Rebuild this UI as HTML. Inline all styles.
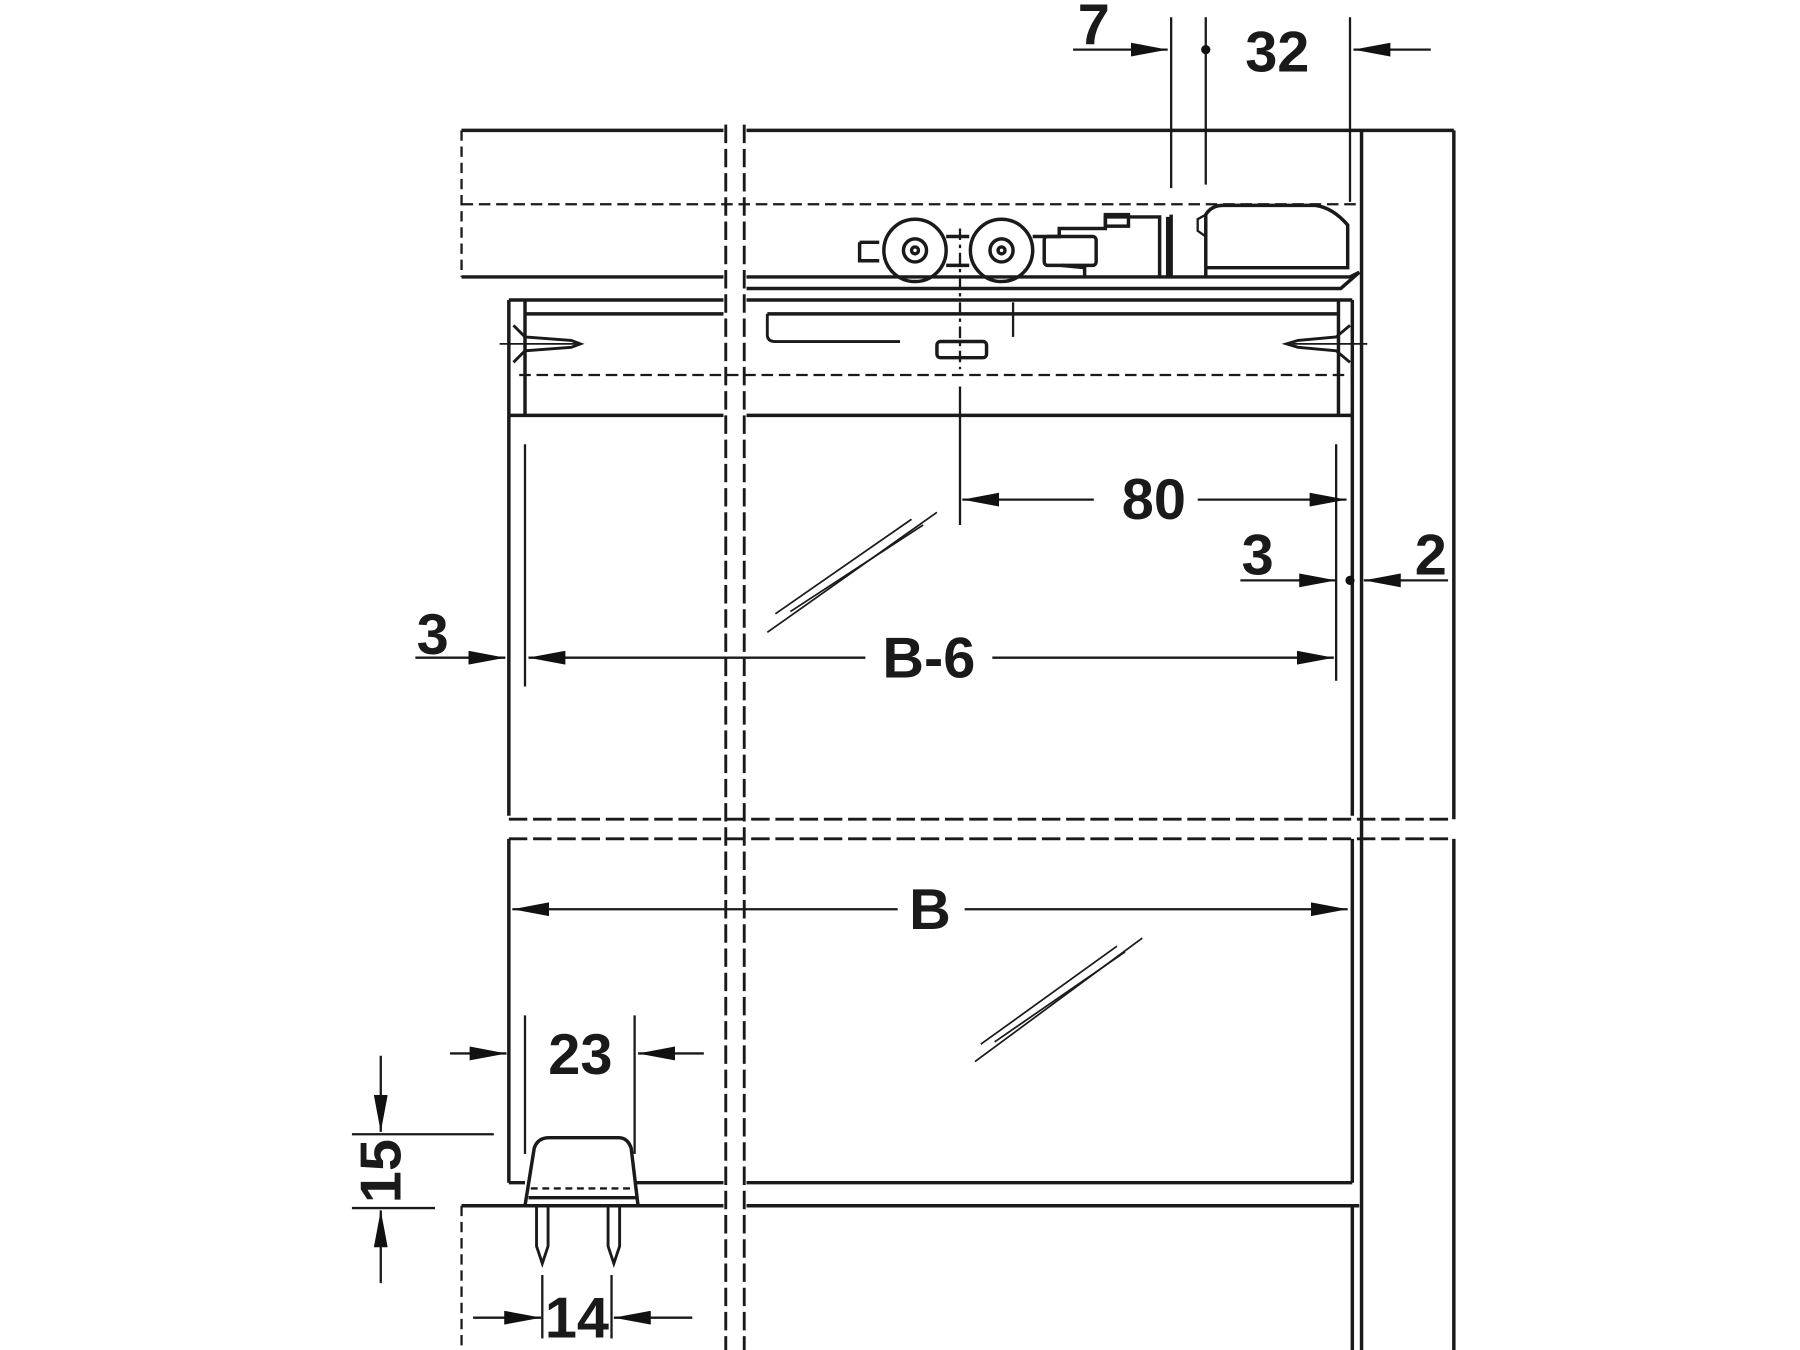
<!DOCTYPE html>
<html><head><meta charset="utf-8"><style>
html,body{margin:0;padding:0;background:#fff;}
svg{display:block;}
text{font-family:"Liberation Sans Narrow","Liberation Sans",sans-serif;font-weight:bold;fill:#1a1a1a;}
</style></head><body>
<svg width="1800" height="1350" viewBox="0 0 1560 1170" xmlns="http://www.w3.org/2000/svg">
<defs>
<marker id="a" viewBox="0 0 32 12" refX="32" refY="6" markerWidth="32" markerHeight="12" markerUnits="userSpaceOnUse" orient="auto"><path d="M0,0 L32,6 L0,12 Z" fill="#111"/></marker>
</defs>
<g stroke="#1a1a1a" fill="none" stroke-width="3">
<line x1="400" y1="113" x2="627" y2="113"/>
<line x1="647" y1="113" x2="1260" y2="113"/>
<line x1="400" y1="240" x2="627" y2="240"/>
<line x1="400" y1="113" x2="400" y2="240" stroke-dasharray="9 5" stroke-width="2"/>
<line x1="400" y1="177" x2="1178" y2="177" stroke-dasharray="10 5" stroke-width="2"/>
<line x1="1180" y1="113" x2="1180" y2="1175"/>
<line x1="1260" y1="113" x2="1260" y2="710"/>
<line x1="1260" y1="727" x2="1260" y2="1175"/>
<line x1="629" y1="108" x2="629" y2="1175" stroke-dasharray="16 5" stroke-width="2.5"/>
<line x1="645" y1="108" x2="645" y2="1175" stroke-dasharray="16 5" stroke-width="2.5"/>
<line x1="441" y1="710" x2="1260" y2="710" stroke-dasharray="16 5" stroke-width="2.5"/>
<line x1="441" y1="727" x2="1260" y2="727" stroke-dasharray="16 5" stroke-width="2.5"/>
<path d="M647,240 L1170,240 L1178,236 L1162,250 L647,250"/>
<line x1="441" y1="260" x2="627" y2="260"/>
<line x1="647" y1="260" x2="1172" y2="260"/>
<line x1="455" y1="272" x2="627" y2="272"/>
<line x1="665" y1="272" x2="1160" y2="272"/>
<line x1="450" y1="325" x2="1170" y2="325" stroke-dasharray="10 5" stroke-width="2"/>
<line x1="441" y1="360" x2="627" y2="360"/>
<line x1="647" y1="360" x2="1172" y2="360"/>
<line x1="441" y1="260" x2="441" y2="707"/>
<line x1="455" y1="260" x2="455" y2="360"/>
<line x1="1172" y1="260" x2="1172" y2="707"/>
<line x1="1160" y1="260" x2="1160" y2="360"/>
<path d="M665,272 L665,290 Q665,296 672,296 L780,296" stroke-width="2.5"/>
<rect x="812" y="296" width="43" height="14" rx="3"/>
<line x1="832" y1="262" x2="832" y2="320" stroke-dasharray="10 4 3 4" stroke-width="2"/>
<line x1="878" y1="262" x2="878" y2="292" stroke-width="2"/>
<path d="M445,282 L455,292 L495,295 L503,298 L495,301 L455,304 L445,314" stroke-width="2.5"/>
<line x1="433" y1="298" x2="500" y2="298" stroke-width="1.5"/>
<path d="M1170,282 L1158,292 L1125,295 L1115,298 L1125,301 L1158,304 L1170,314" stroke-width="2.5"/>
<line x1="1120" y1="298" x2="1185" y2="298" stroke-width="1.5"/>
<path d="M745,210 L762,210 M745,210 L745,226 L762,226" />
<circle cx="793" cy="217" r="27"/><circle cx="793" cy="217" r="10"/><circle cx="793" cy="217" r="3"/>
<circle cx="868" cy="217" r="27"/><circle cx="868" cy="217" r="10"/><circle cx="868" cy="217" r="3"/>
<path d="M820,205 L840,205 M820,230 L840,230"/>
<path d="M895,205 L918,205 L918,198 L958,198 L958,188 L1005,188 L1005,240"/>
<rect x="905" y="205" width="45" height="25" rx="3"/>
<path d="M920,230 L940,232 L940,240"/>
<rect x="958" y="186" width="20" height="10"/>
<path d="M1012,188 L1012,240 M1015,186 L1015,240"/>
<path d="M1045,240 L1045,186 Q1050,178 1060,178 L1140,178 Q1155,180 1168,195 L1168,232 L1045,232"/>
<path d="M1045,186 L1038,190 L1038,200 L1045,205" stroke-width="2"/>
<line x1="832" y1="198" x2="832" y2="258" stroke-dasharray="10 4 3 4" stroke-width="2"/>
<line x1="455" y1="385" x2="455" y2="595" stroke-width="2"/>
<line x1="1158" y1="385" x2="1158" y2="590" stroke-width="2"/>
<line x1="441" y1="727" x2="441" y2="1025"/>
<line x1="1172" y1="727" x2="1172" y2="1025"/>
<line x1="441" y1="1025" x2="455" y2="1025"/>
<line x1="550" y1="1025" x2="627" y2="1025"/>
<line x1="647" y1="1025" x2="1172" y2="1025"/>
<line x1="400" y1="1045" x2="627" y2="1045"/>
<line x1="647" y1="1045" x2="1178" y2="1045"/>
<line x1="400" y1="1045" x2="400" y2="1175" stroke-dasharray="9 5" stroke-width="2"/>
<line x1="1172" y1="1045" x2="1172" y2="1175"/>
<line x1="400" y1="1172" x2="627" y2="1172"/>
<line x1="647" y1="1172" x2="1260" y2="1172"/>
<path d="M455,1045 L463,995 Q466,986 476,986 L536,986 Q544,986 547,995 L553,1045 Z"/>
<line x1="460" y1="1030" x2="550" y2="1030" stroke-dasharray="6 4" stroke-width="2"/>
<line x1="458" y1="1038" x2="552" y2="1038"/>
<path d="M465,1045 L465,1080 L470,1095 L475,1080 L475,1045" stroke-width="2.5"/>
<path d="M527,1045 L527,1080 L532,1095 L537,1080 L537,1045" stroke-width="2.5"/>
<g stroke-width="1.5">
<line x1="665" y1="548" x2="812" y2="444"/><line x1="672" y1="532" x2="790" y2="450"/><line x1="685" y1="530" x2="800" y2="455"/>
<line x1="845" y1="920" x2="990" y2="813"/><line x1="850" y1="905" x2="968" y2="820"/><line x1="862" y1="903" x2="975" y2="825"/>
</g>
<g stroke-width="2">
<line x1="1015" y1="15" x2="1015" y2="163"/>
<line x1="1045" y1="15" x2="1045" y2="160"/>
<line x1="1170" y1="15" x2="1170" y2="175"/>
<line x1="930" y1="43" x2="1012" y2="43" marker-end="url(#a)"/>
<line x1="1240" y1="43" x2="1173" y2="43" marker-end="url(#a)"/>
<line x1="832" y1="335" x2="832" y2="455"/>
<line x1="948" y1="433" x2="834" y2="433" marker-end="url(#a)"/>
<line x1="1038" y1="433" x2="1167" y2="433" marker-end="url(#a)"/>
<line x1="1075" y1="503" x2="1158" y2="503" marker-end="url(#a)"/>
<line x1="1255" y1="503" x2="1182" y2="503" marker-end="url(#a)"/>
<line x1="360" y1="570" x2="438" y2="570" marker-end="url(#a)"/>
<line x1="750" y1="570" x2="458" y2="570" marker-end="url(#a)"/>
<line x1="860" y1="570" x2="1156" y2="570" marker-end="url(#a)"/>
<line x1="778" y1="788" x2="444" y2="788" marker-end="url(#a)"/>
<line x1="836" y1="788" x2="1168" y2="788" marker-end="url(#a)"/>
<line x1="455" y1="880" x2="455" y2="1000"/>
<line x1="550" y1="880" x2="550" y2="1000"/>
<line x1="390" y1="913" x2="439" y2="913" marker-end="url(#a)"/>
<line x1="610" y1="913" x2="553" y2="913" marker-end="url(#a)"/>
<line x1="305" y1="983" x2="428" y2="983"/>
<line x1="305" y1="1047" x2="377" y2="1047"/>
<line x1="330" y1="915" x2="330" y2="981" marker-end="url(#a)"/>
<line x1="330" y1="1112" x2="330" y2="1049" marker-end="url(#a)"/>
<line x1="470" y1="1105" x2="470" y2="1160"/>
<line x1="530" y1="1105" x2="530" y2="1160"/>
<line x1="410" y1="1142" x2="469" y2="1142" marker-end="url(#a)"/>
<line x1="600" y1="1142" x2="532" y2="1142" marker-end="url(#a)"/>
</g>
</g>
<circle cx="1045" cy="43" r="4" fill="#111"/>
<circle cx="1170" cy="503" r="4" fill="#111"/>
<g font-size="50" text-anchor="middle">
<text x="948" y="38">7</text>
<text x="1107" y="62">32</text>
<text x="1000" y="450">80</text>
<text x="1090" y="498">3</text>
<text x="1240" y="498">2</text>
<text x="375" y="567">3</text>
<text x="805" y="587">B-6</text>
<text x="806" y="805">B</text>
<text x="503" y="931">23</text>
<text x="500" y="1159">14</text>
<text transform="translate(347,1015) rotate(-90)" x="0" y="0">15</text>
</g>
</svg>
</body></html>
